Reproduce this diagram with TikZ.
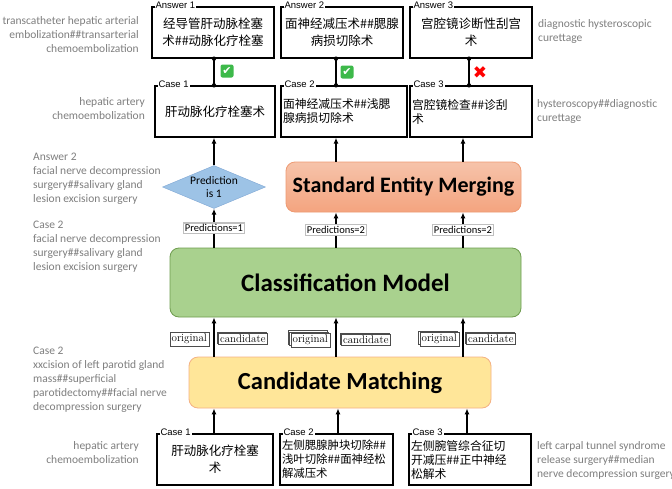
\documentclass[tikz,border=0pt]{standalone}
\usepackage{fontspec}
\usepackage{xcolor}
\usetikzlibrary{shapes.geometric,arrows.meta,shadows}
\newfontfamily\calibri{Carlito}
\newfontfamily\arialf{Liberation Sans}
\newfontfamily\cjk{Noto Sans CJK SC}
\newfontfamily\dejavu{DejaVu Sans}
\definecolor{notegray}{HTML}{7F7F7F}
\definecolor{diafill}{HTML}{9DC3E6}
\definecolor{diaedge}{HTML}{7EA6D4}
\definecolor{semtop}{HTML}{F6C3AA}
\definecolor{sembot}{HTML}{F4A47F}
\definecolor{semedge}{HTML}{EE9A72}
\definecolor{clsfill}{HTML}{A9D18E}
\definecolor{clsedge}{HTML}{6E9C4E}
\definecolor{cmfill}{HTML}{FFE699}
\definecolor{cmedge}{HTML}{F4B183}
\definecolor{okgreen}{HTML}{3DB94A}

\begin{document}
\begin{tikzpicture}[x=1pt,y=-1pt,
  textbox/.style={draw=black,line width=1.3pt,fill=white,minimum height=51pt,inner sep=3pt,align=center,font=\cjk\fontsize{12.5}{17}\selectfont},
  tightbox/.style={textbox,inner sep=2pt,align=left,font=\cjk\fontsize{11.8}{14}\selectfont},
  tag/.style={fill=white,inner sep=1pt,anchor=west,font=\arialf\fontsize{9.5}{10}\selectfont},
  note/.style={text=notegray,inner sep=0pt,font=\calibri\fontsize{11.5}{14}\selectfont},
  stage/.style={rounded corners=9pt,line width=0.8pt,font=\calibri\bfseries\fontsize{24.5}{26}\selectfont},
  pred/.style={fill=white,draw=black!25,inner sep=1.5pt,font=\calibri\fontsize{10.5}{11}\selectfont},
  doc/.style={fill=white,draw=black!70,line width=0.5pt,inner sep=1.8pt,font=\fontsize{11}{11}\selectfont},
  stack1/.style={copy shadow={shadow xshift=-1.5pt,shadow yshift=1.5pt,fill=white,draw=black!70}},
  stack2/.style={double copy shadow={shadow xshift=-1.5pt,shadow yshift=1.5pt,fill=white,draw=black!70}},
  okbox/.style={fill=okgreen,rounded corners=2pt,text=white,inner sep=0pt,minimum size=13pt,font=\dejavu\fontsize{11}{11}\selectfont},
  arr/.style={line width=1.2pt,-{Latex[length=6pt,width=5pt]}},
  link/.style={line width=1.2pt}
]
\path[use as bounding box,fill=white] (0,0) rectangle (672,488);
\coordinate (col1) at (214,0);
\coordinate (col2) at (336,0);
\coordinate (col3) at (463,0);
\coordinate (col3t) at (469,0);

\node[textbox,text width=116pt] (ans1) at (213,32.5) {经导管肝动脉栓塞\\术\#\#动脉化疗栓塞};
\node[textbox,text width=116pt] (ans2) at (342,32.5) {面神经减压术\#\#腮腺\\病损切除术};
\node[textbox,text width=116pt] (ans3) at (471,32.5) {宫腔镜诊断性刮宫\\术};
\node[textbox,text width=114pt] (case1) at (215,111.5) {肝动脉化疗栓塞术};
\node[tightbox,text width=122pt] (case2) at (344,111.5) {面神经减压术\#\#浅腮\\腺病损切除术};
\node[tightbox,text width=118pt] (case3) at (471,111.5) {宫腔镜检查\#\#诊刮\\术};
\node[textbox,text width=110pt] (bcase1) at (215,459.5) {肝动脉化疗栓塞\\术};
\node[tightbox,text width=109pt,font=\cjk\fontsize{11.4}{14}\selectfont] (bcase2) at (336.5,459.5) {左侧腮腺肿块切除\#\#\\浅叶切除\#\#面神经松\\解减压术};
\node[tightbox,text width=118pt] (bcase3) at (470,459.5) {左侧腕管综合征切\\开减压\#\#正中神经\\松解术};

\node[tag] (tagA1) at ([xshift=3pt,yshift=1pt]ans1.north west) {Answer 1};
\node[tag] (tagA2) at ([xshift=3pt,yshift=1pt]ans2.north west) {Answer 2};
\node[tag] (tagA3) at ([xshift=3pt,yshift=1pt]ans3.north west) {Answer 3};
\node[tag] (tagC1) at ([xshift=3pt,yshift=1pt]case1.north west) {Case 1};
\node[tag] (tagC2) at ([xshift=3pt,yshift=1pt]case2.north west) {Case 2};
\node[tag] (tagC3) at ([xshift=3pt,yshift=1pt]case3.north west) {Case 3};
\node[tag] (tagB1) at ([xshift=3pt,yshift=1pt]bcase1.north west) {Case 1};
\node[tag] (tagB2) at ([xshift=3pt,yshift=1pt]bcase2.north west) {Case 2};
\node[tag] (tagB3) at ([xshift=3pt,yshift=1pt]bcase3.north west) {Case 3};

\foreach \a/\c/\k in {ans1/case1/col1,ans2/case2/col2,ans3/case3/col3t}{
  \draw[link] (\a.south -| \k) -- (\c.north -| \k);
  \fill (\a.south -| \k) circle (2.2pt) (\c.north -| \k) circle (2.2pt);
}
\node[okbox] (ok1) at (227,71) {✔};
\node[okbox] (ok2) at (347,72) {✔};
\node[text=red,inner sep=0pt,font=\dejavu\fontsize{17}{17}\selectfont] (no3) at (480,73) {✖};

\node[diamond,aspect=2.4,fill=diafill,draw=diaedge,inner sep=0pt,minimum width=103pt,minimum height=43pt,align=center,font=\calibri\fontsize{11.5}{13}\selectfont] (pred1) at (214,187) {Prediction\\is 1};
\node[stage,top color=semtop,bottom color=sembot,draw=semedge,minimum width=235pt,minimum height=50pt,font=\calibri\bfseries\fontsize{22}{24}\selectfont] (sem) at (403.5,187) {Standard Entity Merging};
\node[stage,fill=clsfill,draw=clsedge,minimum width=351pt,minimum height=69pt,font=\calibri\bfseries\fontsize{25}{27}\selectfont] (cls) at (345.5,282.5) {Classification Model};
\node[stage,fill=cmfill,draw=cmedge,minimum width=302pt,minimum height=51pt] (cm) at (340,382.5) {Candidate Matching};

\draw[arr] (pred1.north) -- (case1.south -| col1);
\draw[arr] (cls.north -| col1) -- node[pred] (p1) {Predictions=1} (pred1.south);
\draw[arr] (cls.north -| col2) -- node[pred] (p2) {Predictions=2} (sem.south -| col2);
\draw[arr] (cls.north -| col3) -- node[pred] (p3) {Predictions=2} (sem.south -| col3);
\draw[arr] (sem.north -| col2) -- (case2.south -| col2);
\draw[arr] (sem.north -| col3) -- (case3.south -| col3);

\foreach \k in {col1,col2,col3}{
  \draw[arr] (cm.north -| \k) -- (cls.south -| \k);
}
\draw[arr] (bcase1.north -| col1) -- (cm.south -| col1);
\draw[arr] ([xshift=2pt]bcase2.north -| col2) -- ([xshift=2pt]cm.south -| col2);
\draw[arr] ([xshift=4pt]bcase3.north -| col3) -- ([xshift=4pt]cm.south -| col3);

\node[doc,anchor=east] (orig1) at (209,339) {original};
\node[doc,stack1,anchor=west] (cand1) at (218,339) {candidate};
\node[doc,stack2,anchor=east] (orig2) at (330,340) {original};
\node[doc,stack1,anchor=west] (cand2) at (341,340) {candidate};
\node[doc,stack1,anchor=east] (orig3) at (459,339) {original};
\node[doc,stack1,anchor=west] (cand3) at (466,339) {candidate};

\node[note,anchor=east,align=right] (n1) at (139,34.5) {transcatheter hepatic arterial\\embolization\#\#transarterial\\chemoembolization};
\node[note,anchor=east,align=right] (n2) at (145,109) {hepatic artery\\chemoembolization};
\node[note,anchor=west,align=left] (n3) at (33,179) {Answer 2\\facial nerve decompression\\surgery\#\#salivary gland\\lesion excision surgery};
\node[note,anchor=west,align=left] (n4) at (33,246.5) {Case 2\\facial nerve decompression\\surgery\#\#salivary gland\\lesion excision surgery};
\node[note,anchor=west,align=left] (n5) at (33,380) {Case 2\\xxcision of left parotid gland\\mass\#\#superficial\\parotidectomy\#\#facial nerve\\decompression surgery};
\node[note,anchor=east,align=right] (n6) at (139,452.5) {hepatic artery\\chemoembolization};
\node[note,anchor=west,align=left] (n7) at (538,31.5) {diagnostic hysteroscopic\\curettage};
\node[note,anchor=west,align=left] (n8) at (537,111.5) {hysteroscopy\#\#diagnostic\\curettage};
\node[note,anchor=west,align=left] (n9) at (537,460.5) {left carpal tunnel syndrome\\release surgery\#\#median\\nerve decompression surgery};
\end{tikzpicture}
\end{document}
